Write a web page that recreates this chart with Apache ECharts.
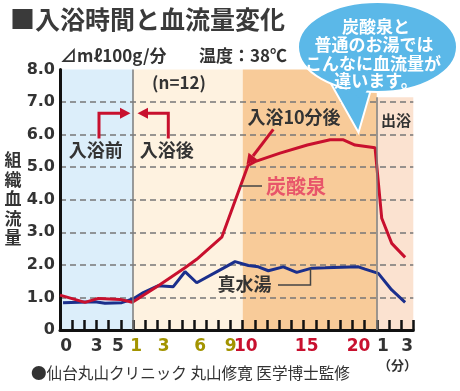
<!DOCTYPE html>
<html>
<head>
<meta charset="utf-8">
<script src="https://cdn.jsdelivr.net/npm/echarts@6/dist/echarts.min.js"></script>
<style>
html,body{margin:0;padding:0;background:#fff;}
#chart{width:460px;height:391px;}
</style>
</head>
<body>
<div id="chart"></div>
<script>
// ---- data ----
// timeline position: 0-6 = before bath (0..5 min), 6-26 = in bath (1..20 min), 26-29 = after bath (1..3 min)
const redPos  = [0, 2.05, 3.14, 4.93, 5.94, 8.07, 10.26, 11.22, 13.28, 15.43, 16.0, 18.06, 20.3, 22.17, 23.26, 24.22, 25.86, 26.41, 27.23, 28.33];
const redVal  = [1.07, 0.85, 0.97, 0.94, 0.85, 1.36, 1.91, 2.17, 2.85, 5.05, 5.17, 5.43, 5.68, 5.84, 5.84, 5.68, 5.6, 3.43, 2.66, 2.23];
const bluePos = [0.25, 2.87, 3.69, 5.07, 6.02, 6.84, 8.07, 9.3, 10.26, 11.22, 13.41, 14.37, 15.46, 16.28, 17.1, 18.33, 19.43, 20.67, 21.76, 24.49, 25.04, 26.13, 27.23, 28.33];
const blueVal = [0.84, 0.87, 0.82, 0.84, 0.96, 1.15, 1.36, 1.33, 1.79, 1.45, 1.9, 2.1, 1.98, 1.94, 1.82, 1.94, 1.77, 1.9, 1.91, 1.94, 1.87, 1.74, 1.23, 0.85];

const tickPos   = [0.5, 3, 4.75, 6.25, 8.5, 11.5, 14, 15.25, 20.25, 24.5, 26.5, 28.5];
const tickText  = ['0', '3', '5', '1', '3', '6', '9', '10', '15', '20', '1', '3'];
const tickGroup = ['k', 'k', 'k', 'y', 'y', 'y', 'y', 'r', 'r', 'r', 'k', 'k'];

const phaseStart = [0, 6, 15, 26];
const phaseEnd   = [6, 15, 26, 29];
const phaseTop   = [8, 8, 8, 7.15];

// ---- styles ----
const phaseColors = ['#dceefa', '#fef2e0', '#f8cb99', '#fbe2d0'];
const RED = '#c8102e', BLUE = '#1b2f8c';
const CJK = '"Noto Sans CJK JP", sans-serif';
const NUM = '"DejaVu Sans", sans-serif';

const chart = echarts.init(document.getElementById('chart'), null, {renderer: 'canvas'});

function zip(a, b) { return a.map((v, i) => [v, b[i]]); }

const areas = phaseStart.map((s, i) => [
  {xAxis: s, yAxis: 0, itemStyle: {color: phaseColors[i]}},
  {xAxis: phaseEnd[i], yAxis: phaseTop[i]}
]);

const option = {
  animation: false,
  title: {
    text: '■入浴時間と血流量変化', left: 5, top: 2,
    textStyle: {fontSize: 25, fontWeight: 'bold', color: '#3a3a3a', fontFamily: CJK}
  },
  grid: {left: 60, right: 46.7, top: 69.5, bottom: 61},
  xAxis: [
    {
      type: 'value', min: 0, max: 29, interval: 1, z: 2,
      axisLine: {show: true, onZero: false, lineStyle: {color: '#111', width: 3}},
      axisTick: {show: true, inside: true, length: 10, lineStyle: {color: '#111', width: 2.5}},
      axisLabel: {show: false},
      splitLine: {show: false}
    },
    {
      type: 'value', min: 0, max: 29, interval: 0.25, position: 'bottom', offset: 0, z: 2,
      axisLine: {show: false}, axisTick: {show: false}, splitLine: {show: false},
      axisLabel: {
        show: true, margin: 8,
        formatter: function (v) {
          for (let i = 0; i < tickPos.length; i++) {
            if (Math.abs(v - tickPos[i]) < 0.01) return '{' + tickGroup[i] + '|' + tickText[i] + '}';
          }
          return '';
        },
        rich: {
          k: {color: '#333', fontSize: 17, fontWeight: 'bold', fontFamily: NUM},
          y: {color: '#a39400', fontSize: 17, fontWeight: 'bold', fontFamily: NUM},
          r: {color: '#c8102e', fontSize: 17, fontWeight: 'bold', fontFamily: NUM}
        }
      }
    }
  ],
  yAxis: {
    type: 'value', min: 0, max: 8, interval: 1, z: 2,
    axisLine: {show: true, lineStyle: {color: '#111', width: 3}},
    axisTick: {show: false},
    axisLabel: {
      margin: 5, color: '#333', fontSize: 16, fontWeight: 'bold', fontFamily: NUM,
      formatter: v => (v === 0 ? '0' : v.toFixed(1))
    },
    splitLine: {show: true, showMaxLine: false, lineStyle: {color: '#777', width: 1.5, type: [6, 4]}}
  },
  series: [
    {
      type: 'line', data: [], z: 1, xAxisIndex: 0, silent: true,
      markArea: {silent: true, data: areas},
      markLine: {
        silent: true, symbol: 'none', label: {show: false},
        lineStyle: {color: '#7d7d7d', width: 1.5, type: 'solid'},
        data: [
          [{coord: [phaseEnd[0], 0]}, {coord: [phaseEnd[0], phaseTop[0]]}],
          [{coord: [phaseEnd[2], 0]}, {coord: [phaseEnd[2], phaseTop[3]]}]
        ]
      }
    },
    {
      name: '真水湯', type: 'line', xAxisIndex: 0, z: 3, data: zip(bluePos, blueVal),
      symbol: 'none', lineStyle: {color: BLUE, width: 3}
    },
    {
      name: '炭酸泉', type: 'line', xAxisIndex: 0, z: 4, data: zip(redPos, redVal),
      symbol: 'none', lineStyle: {color: RED, width: 3}
    }
  ],
  graphic: [
    // subtitle
    {type: 'text', z: 100, style: {text: '⊿mℓ100g/分', x: 60, y: 55.5, verticalAlign: 'middle', fill: '#333', font: 'bold 17px ' + CJK}},
    {type: 'text', z: 100, style: {text: '温度：38℃', x: 199, y: 55.5, verticalAlign: 'middle', fill: '#333', font: 'bold 17px ' + CJK}},
    {type: 'text', z: 100, style: {text: '(n=12)', x: 179, y: 82.7, align: 'center', verticalAlign: 'middle', fill: '#333', font: 'bold 17px ' + CJK}},
    // y axis name
    {type: 'text', z: 100, style: {text: '組\n織\n血\n流\n量', x: 13, y: 199, align: 'center', verticalAlign: 'middle', lineHeight: 19.5, fill: '#333', font: 'bold 17px ' + CJK}},
    // before / after
    {type: 'text', z: 100, style: {text: '入浴前', x: 95.8, y: 150, align: 'center', verticalAlign: 'middle', fill: '#333', font: 'bold 18px ' + CJK}},
    {type: 'text', z: 100, style: {text: '入浴後', x: 166.8, y: 150, align: 'center', verticalAlign: 'middle', fill: '#333', font: 'bold 18px ' + CJK}},
    {type: 'polyline', z: 100, shape: {points: [[99, 138.5], [99, 113.3], [122, 113.3]]}, style: {stroke: RED, lineWidth: 3, fill: null}},
    {type: 'polygon', z: 100, shape: {points: [[120, 107.8], [130.5, 113.3], [120, 118.8]]}, style: {fill: RED}},
    {type: 'polyline', z: 100, shape: {points: [[168.3, 138.5], [168.3, 113.3], [146, 113.3]]}, style: {stroke: RED, lineWidth: 3, fill: null}},
    {type: 'polygon', z: 100, shape: {points: [[148, 107.8], [137.5, 113.3], [148, 118.8]]}, style: {fill: RED}},
    // 10 min annotation
    {type: 'text', z: 100, style: {text: '入浴10分後', x: 294, y: 116.7, align: 'center', verticalAlign: 'middle', fill: '#333', font: 'bold 18px ' + CJK}},
    {type: 'line', z: 100, shape: {x1: 273.3, y1: 129.3, x2: 253, y2: 156}, style: {stroke: RED, lineWidth: 3}},
    {type: 'polygon', z: 100, shape: {points: [[246.5, 164.5], [248.5, 152.8], [257.2, 159.4]]}, style: {fill: RED}},
    // series labels
    {type: 'text', z: 100, style: {text: '炭酸泉', x: 296, y: 186.7, align: 'center', verticalAlign: 'middle', fill: '#e8556a', font: 'bold 20px ' + CJK}},
    {type: 'line', z: 100, shape: {x1: 240, y1: 186, x2: 262, y2: 186}, style: {stroke: '#444', lineWidth: 1.5}},
    {type: 'text', z: 100, style: {text: '真水湯', x: 244.5, y: 284.5, align: 'center', verticalAlign: 'middle', fill: '#333', font: 'bold 18px ' + CJK}},
    {type: 'polyline', z: 100, shape: {points: [[278, 285], [310.5, 285], [310.5, 268]]}, style: {stroke: '#444', lineWidth: 1.5, fill: null}},
    {type: 'text', z: 100, style: {text: '出浴', x: 396, y: 120, align: 'center', verticalAlign: 'middle', fill: '#333', font: 'bold 15px ' + CJK}},
    // speech bubble
    {type: 'polygon', z: 101, shape: {points: [[330, 82], [372, 86], [358.5, 132.5]]}, style: {fill: '#5bb8e8', stroke: '#fff', lineWidth: 2}},
    {type: 'ellipse', z: 102, shape: {cx: 377.5, cy: 47, rx: 79.5, ry: 45}, style: {fill: '#5bb8e8', stroke: '#fff', lineWidth: 2}},
    {type: 'polygon', z: 103, shape: {points: [[333, 80], [370, 84], [362, 100]]}, style: {fill: '#5bb8e8'}},
    {type: 'text', z: 104, style: {text: '炭酸泉と', x: 376, y: 26.7, align: 'center', verticalAlign: 'middle', fill: '#fff', font: 'bold 17px ' + CJK}},
    {type: 'text', z: 104, style: {text: '普通のお湯では', x: 374, y: 45, align: 'center', verticalAlign: 'middle', fill: '#fff', font: 'bold 17px ' + CJK}},
    {type: 'text', z: 104, style: {text: 'こんなに血流量が', x: 373, y: 63.5, align: 'center', verticalAlign: 'middle', fill: '#fff', font: 'bold 17px ' + CJK}},
    {type: 'text', z: 104, style: {text: '違います。', x: 376, y: 81, align: 'center', verticalAlign: 'middle', fill: '#fff', font: 'bold 17px ' + CJK}},
    // footer
    {type: 'text', z: 100, style: {text: '（分）', x: 397.5, y: 365, align: 'center', verticalAlign: 'middle', fill: '#333', font: 'bold 13px ' + CJK}},
    {type: 'text', z: 100, style: {text: '●仙台丸山クリニック 丸山修寛 医学博士監修', x: 31, y: 373.3, verticalAlign: 'middle', fill: '#333', font: '15.6px ' + CJK}}
  ]
};
chart.setOption(option);
</script>
</body>
</html>
